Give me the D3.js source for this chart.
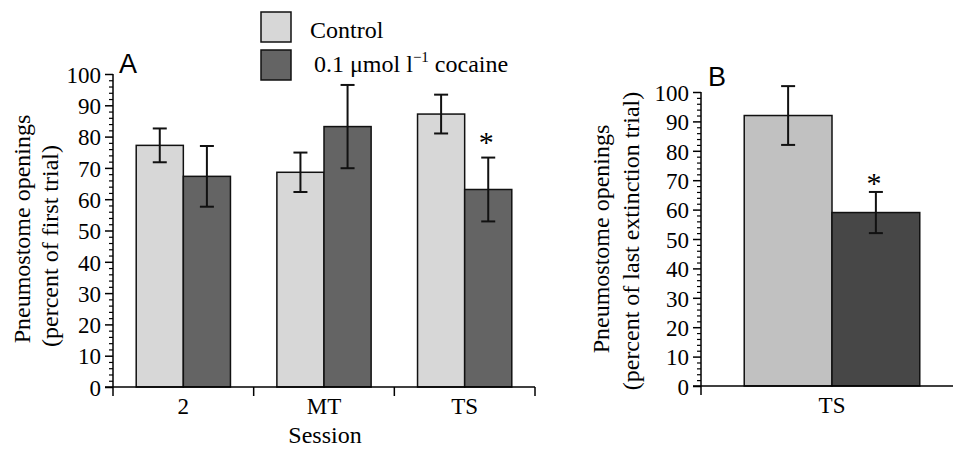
<!DOCTYPE html>
<html><head><meta charset="utf-8">
<script src="https://cdn.jsdelivr.net/npm/d3@7"></script>
<style>body{margin:0;background:#fff}svg{display:block}text{font-family:"Liberation Serif","Times New Roman",serif;fill:#000}</style>
</head><body><svg id="c" width="953" height="449"></svg>
<script>
const sessionsA = ["2","MT","TS"];
const controlA = [77.2, 68.6, 87.2];
const controlErrA = [5.4, 6.3, 6.2];
const cocaineA = [67.3, 83.2, 63.1];
const cocaineErrA = [9.7, 13.3, 10.2];
const sessionsB = ["TS"];
const controlB = [92.0];
const controlErrB = [10.0];
const cocaineB = [59.0];
const cocaineErrB = [7.0];
const yTicks = [0,10,20,30,40,50,60,70,80,90,100];
const seriesNames = ["Control", "0.1 \u03BCmol l", "\u22121", " cocaine"];

const svg = d3.select("#c");
const FS = 23;

function panel(o){
  const g = svg.append("g");
  const x0 = d3.scaleBand().domain(o.cats).range(o.xr).paddingInner(0.33).paddingOuter(0.165);
  const x1 = d3.scaleBand().domain(["c","k"]).range([0, x0.bandwidth()]);
  const y = d3.scaleLinear().domain([0,100]).range(o.yr);
  const data = o.cats.map((c,i)=>({cat:c, vals:[
    {k:"c", v:o.ctrl[i], e:o.ctrlE[i], fill:o.colC},
    {k:"k", v:o.coc[i], e:o.cocE[i], fill:o.colK}]}));
  const grp = g.selectAll("g.grp").data(data).join("g").attr("transform", d=>`translate(${x0(d.cat)},0)`);
  grp.selectAll("rect").data(d=>d.vals).join("rect")
    .attr("x", d=>x1(d.k)).attr("width", x1.bandwidth())
    .attr("y", d=>y(d.v)).attr("height", d=>y(0)-y(d.v))
    .attr("fill", d=>d.fill).attr("stroke","#111").attr("stroke-width",1.5);
  const eb = grp.selectAll("g.eb").data(d=>d.vals).join("g").attr("class","eb")
    .attr("stroke","#111").attr("stroke-width",2);
  const cx = d=>x1(d.k)+x1.bandwidth()/2;
  eb.append("line").attr("x1",cx).attr("x2",cx)
    .attr("y1",d=>y(d.v+d.e)).attr("y2",d=>y(d.v-d.e));
  eb.append("line").attr("x1",d=>cx(d)-7).attr("x2",d=>cx(d)+7)
    .attr("y1",d=>y(d.v+d.e)).attr("y2",d=>y(d.v+d.e));
  eb.append("line").attr("x1",d=>cx(d)-7).attr("x2",d=>cx(d)+7)
    .attr("y1",d=>y(d.v-d.e)).attr("y2",d=>y(d.v-d.e));
  o.star.forEach(s=>{
    const i = o.cats.indexOf(s);
    g.append("text").attr("x", x0(s)+x1("k")+x1.bandwidth()/2 - 2).attr("y", y(o.coc[i]+o.cocE[i]) - o.starOff)
      .attr("text-anchor","middle").attr("font-size",30).text("*");
  });
  const ax = d3.axisLeft(y).tickValues(yTicks).tickSize(8).tickPadding(4);
  const ya = g.append("g").attr("transform",`translate(${o.xr[0]},0)`).call(ax);
  ya.select(".domain").remove();
  ya.selectAll(".tick line").attr("stroke","#000").attr("stroke-width",1.5);
  ya.selectAll(".tick text").attr("font-size",FS).attr("font-family",'"Liberation Serif",serif').attr("dy","0.36em");
  const minor = d3.range(0,101,2).filter(v=>v%10!==0);
  const ma = d3.axisLeft(y).tickValues(minor).tickSize(4).tickFormat("");
  const ym = g.append("g").attr("transform",`translate(${o.xr[0]},0)`).call(ma);
  ym.select(".domain").remove();
  ym.selectAll(".tick line").attr("stroke","#000").attr("stroke-width",1.2);
  g.append("line").attr("x1",o.xr[0]).attr("x2",o.xr[0]).attr("y1",y(100)).attr("y2",y(0)+9)
    .attr("stroke","#000").attr("stroke-width",1.5);
  g.append("line").attr("x1",o.xr[0]-8).attr("x2",o.xEnd).attr("y1",y(0)).attr("y2",y(0))
    .attr("stroke","#000").attr("stroke-width",1.5);
  const step = x0.step();
  if(o.bTicks){
    d3.range(1, o.cats.length+1).forEach(i=>{
      const xx = o.xr[0] + i*step;
      g.append("line").attr("x1",xx).attr("x2",xx).attr("y1",y(0)).attr("y2",y(0)+9).attr("stroke","#000").attr("stroke-width",1.5);
    });
  }
  g.selectAll("text.cat").data(o.cats).join("text").attr("class","cat")
    .attr("x", d=>x0(d)+x0.bandwidth()/2).attr("y", y(0)+27).attr("text-anchor","middle")
    .attr("font-size",FS).text(d=>d);
  o.titles.forEach(t=>{
    g.append("text").attr("transform",`translate(${t.x},${t.y}) rotate(-90)`).attr("text-anchor","middle")
      .attr("dy","0.35em").attr("font-size",24).text(t.s);
  });
  g.append("text").attr("x",o.letter[0]).attr("y",o.letter[1])
    .attr("font-size",27).text(o.letter[2]).style("font-family",'"Liberation Sans",Arial,sans-serif');
  return {x0,y};
}

panel({cats:sessionsA, ctrl:controlA, ctrlE:controlErrA, coc:cocaineA, cocE:cocaineErrA,
  colC:"#d7d7d7", colK:"#646464", xr:[113,535], xEnd:535, yr:[387,74], bTicks:true,
  star:["TS"], starOff:6,
  titles:[{x:22,y:229,s:"Pneumostome openings"},{x:50,y:246,s:"(percent of first trial)"}],
  letter:[119,73,"A"]});

panel({cats:sessionsB, ctrl:controlB, ctrlE:controlErrB, coc:cocaineB, cocE:cocaineErrB,
  colC:"#c1c1c1", colK:"#474747", xr:[701,963], xEnd:953, yr:[386,92], bTicks:false,
  star:["TS"], starOff:-1,
  titles:[{x:601,y:239,s:"Pneumostome openings"},{x:631,y:241,s:"(percent of last extinction trial)"}],
  letter:[708,86,"B"]});

svg.append("text").attr("x",325).attr("y",443).attr("text-anchor","middle").attr("font-size",24).text("Session");

const leg = svg.append("g");
const legItems = [{fill:"#d7d7d7", y:12}, {fill:"#646464", y:50}];
leg.selectAll("rect").data(legItems).join("rect").attr("x",261).attr("y",d=>d.y).attr("width",30).attr("height",30)
  .attr("fill",d=>d.fill).attr("stroke","#111").attr("stroke-width",1.5);
leg.append("text").attr("x",310).attr("y",38).attr("font-size",24).text(seriesNames[0]);
const t2 = leg.append("text").attr("x",314).attr("y",72).attr("font-size",24);
t2.append("tspan").text(seriesNames[1]);
t2.append("tspan").attr("font-size",15).attr("dy",-10).text(seriesNames[2]);
t2.append("tspan").attr("dy",10).text(seriesNames[3]);
</script></body></html>
